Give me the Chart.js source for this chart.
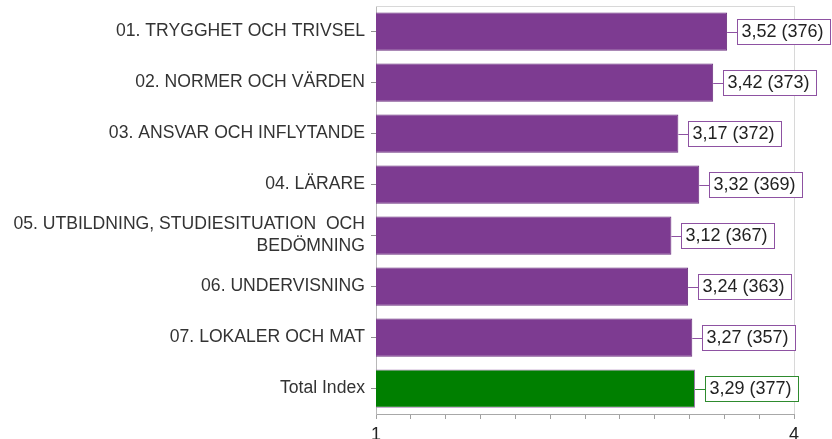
<!DOCTYPE html>
<html>
<head>
<meta charset="utf-8">
<script src="https://cdn.jsdelivr.net/npm/chart.js@4/dist/chart.umd.min.js"></script>
<style>
  html, body { margin: 0; padding: 0; background: #fff; }
  #wrap { width: 832px; height: 439px; position: relative; }
</style>
</head>
<body>
<div id="wrap"><canvas id="chart"></canvas></div>
<script>
const categories = [
    '01. TRYGGHET OCH TRIVSEL',
    '02. NORMER OCH VÄRDEN',
    '03. ANSVAR OCH INFLYTANDE',
    '04. LÄRARE',
    ['05. UTBILDNING, STUDIESITUATION  OCH', 'BEDÖMNING'],
    '06. UNDERVISNING',
    '07. LOKALER OCH MAT',
    'Total Index'
]
const values = [3.52, 3.42, 3.17, 3.32, 3.12, 3.24, 3.27, 3.29]
const counts = [376, 373, 372, 369, 367, 363, 357, 377]
const xTickLabels = [1, 4]

const purple = '#7D3B91'
const green = '#007F00'
const last = values.length - 1
const barColors = values.map((v, i) => i === last ? green : purple)
const labelBorders = values.map((v, i) => i === last ? '#2E8B2E' : '#8E52A2')
const fontFamily = '"Liberation Sans", Arial, sans-serif'

// value labels in boxes, joined to the bar end by a short line
const boxLabels = {
    id: 'boxLabels',
    afterDatasetsDraw(chart) {
        const ctx = chart.ctx
        const meta = chart.getDatasetMeta(0)
        ctx.save()
        ctx.font = '18px ' + fontFamily
        ctx.textBaseline = 'middle'
        meta.data.forEach((bar, i) => {
            const text = values[i].toFixed(2).replace('.', ',') + ' (' + counts[i] + ')'
            const w = Math.round(ctx.measureText(text).width + 11)
            const h = 25
            const x0 = Math.round(bar.x + 10) + 0.5
            const y0 = Math.round(bar.y - h / 2) + 0.5
            const yc = Math.round(bar.y) + 0.5
            ctx.strokeStyle = labelBorders[i]
            ctx.lineWidth = 1
            ctx.beginPath()
            ctx.moveTo(bar.x, yc)
            ctx.lineTo(x0, yc)
            ctx.stroke()
            ctx.fillStyle = '#fff'
            ctx.fillRect(x0, y0, w, h)
            ctx.strokeRect(x0, y0, w, h)
            ctx.fillStyle = '#222'
            ctx.fillText(text, x0 + 4, bar.y + 1)
        })
        ctx.restore()
    }
}

// light frame line along the top of the plot
const topFrame = {
    id: 'topFrame',
    beforeDatasetsDraw(chart) {
        const {ctx, chartArea} = chart
        ctx.save()
        ctx.strokeStyle = '#D8D8D8'
        ctx.lineWidth = 1
        ctx.beginPath()
        ctx.moveTo(chartArea.left, Math.round(chartArea.top) + 0.5)
        ctx.lineTo(chartArea.right, Math.round(chartArea.top) + 0.5)
        ctx.stroke()
        ctx.restore()
    }
}

new Chart(document.getElementById('chart'), {
    type: 'bar',
    data: {
        labels: categories,
        datasets: [{
            data: values,
            backgroundColor: barColors,
            borderColor: values.map((v, i) => i === last ? '#A070B0' : '#6A2E7E'),
            borderWidth: 1,
            barPercentage: 0.75,
            categoryPercentage: 1
        }]
    },
    options: {
        indexAxis: 'y',
        responsive: true,
        maintainAspectRatio: false,
        animation: false,
        layout: { padding: { top: 6, right: 38, left: 0, bottom: 0 } },
        plugins: {
            legend: { display: false },
            tooltip: { enabled: false }
        },
        scales: {
            x: {
                min: 1,
                max: 4,
                ticks: {
                    stepSize: 0.25,
                    autoSkip: false,
                    maxRotation: 0,
                    padding: 5,
                    color: '#222',
                    font: { size: 18, family: fontFamily },
                    callback: v => xTickLabels.includes(v) ? v : ''
                },
                grid: {
                    drawOnChartArea: true,
                    color: ctx => ctx.tick && ctx.tick.value === 4 ? '#D8D8D8' : 'rgba(0,0,0,0)',
                    tickColor: '#A0A0A0',
                    tickLength: 5
                },
                border: { color: '#A8A8A8' },
                afterFit: axis => { axis.height = 25; axis.paddingLeft = 0; axis.paddingRight = 0 }
            },
            y: {
                ticks: {
                    color: '#333',
                    padding: 6,
                    font: { size: 17.6, family: fontFamily, lineHeight: 1.25 }
                },
                grid: {
                    offset: false,
                    drawOnChartArea: false,
                    tickColor: '#909090',
                    tickLength: 5
                },
                border: { color: '#B8B8B8' },
                afterFit: axis => { axis.width = 376; axis.paddingTop = 0; axis.paddingBottom = 0 }
            }
        }
    },
    plugins: [topFrame, boxLabels]
})
</script>
</body>
</html>
